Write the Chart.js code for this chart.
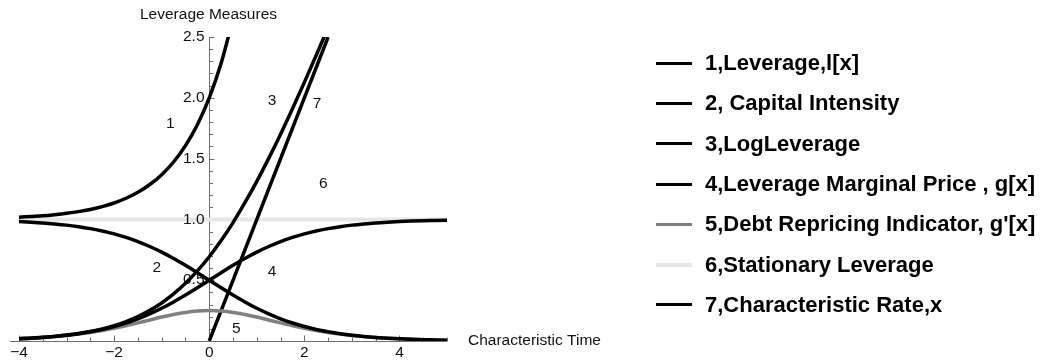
<!DOCTYPE html>
<html>
<head>
<meta charset="utf-8">
<title>Leverage Measures</title>
<script src="https://cdn.jsdelivr.net/npm/chart.js@4.4.1/dist/chart.umd.min.js"></script>
<style>
  body { margin: 0; background: #fff; }
  #wrap { position: relative; width: 1047px; height: 363px; }
  #legend { position: absolute; left: 656px; top: 43px; font: bold 22px "Liberation Sans", Arial, sans-serif; color: #000; }
  #legend .item { display: flex; align-items: center; height: 40.3px; white-space: nowrap; }
  #legend .swatch { width: 36px; margin-right: 13px; }
</style>
</head>
<body>
<div id="wrap">
  <canvas id="chart" width="1047" height="363"></canvas>
  <div id="legend"></div>
</div>
<script>
// --- data (x grid shared by all curves) ---
const xs = [-4, -3.75, -3.5, -3.25, -3, -2.75, -2.5, -2.25, -2, -1.75, -1.5, -1.25, -1, -0.75, -0.5, -0.25,
            0, 0.25, 0.5, 0.75, 1, 1.25, 1.5, 1.75, 2, 2.25, 2.5, 2.75, 3, 3.25, 3.5, 3.75, 4, 4.25, 4.5, 4.75, 5];

const leverage = [1.018, 1.024, 1.030, 1.039, 1.050, 1.064, 1.082, 1.105, 1.135, 1.174, 1.223, 1.287, 1.368,
                  1.472, 1.607, 1.779, 2.0, 2.284, 2.649];
const capitalIntensity = [0.982, 0.977, 0.971, 0.963, 0.953, 0.940, 0.924, 0.905, 0.881, 0.852, 0.818, 0.777, 0.731,
                          0.679, 0.622, 0.562, 0.5, 0.438, 0.378, 0.321, 0.269, 0.223, 0.182, 0.148, 0.119, 0.095,
                          0.076, 0.060, 0.047, 0.037, 0.029, 0.023, 0.018, 0.014, 0.011, 0.009, 0.007];
const logLeverage = [0.018, 0.023, 0.030, 0.038, 0.049, 0.062, 0.079, 0.100, 0.127, 0.160, 0.201, 0.252, 0.313,
                     0.387, 0.474, 0.576, 0.693, 0.826, 0.974, 1.137, 1.313, 1.502, 1.701, 1.910, 2.127, 2.350, 2.579];
const marginalPrice = [0.018, 0.023, 0.029, 0.037, 0.047, 0.060, 0.076, 0.095, 0.119, 0.148, 0.182, 0.223, 0.269,
                       0.321, 0.378, 0.438, 0.5, 0.562, 0.622, 0.679, 0.731, 0.777, 0.818, 0.852, 0.881, 0.905,
                       0.924, 0.940, 0.953, 0.963, 0.971, 0.977, 0.982, 0.986, 0.989, 0.991, 0.993];
const repricing = [0.018, 0.023, 0.029, 0.036, 0.045, 0.057, 0.070, 0.086, 0.105, 0.126, 0.149, 0.173, 0.197,
                   0.218, 0.235, 0.246, 0.25, 0.246, 0.235, 0.218, 0.197, 0.173, 0.149, 0.126, 0.105, 0.086,
                   0.070, 0.057, 0.045, 0.036, 0.029, 0.023, 0.018, 0.014, 0.011, 0.009, 0.007];
const stationaryX = [-4, 5];
const stationary = [1, 1];
const rateX = [0, 2.5];
const rate = [0, 2.5];

const seriesNames = ['1,Leverage,l[x]', '2, Capital Intensity', '3,LogLeverage', '4,Leverage Marginal Price , g[x]',
                     '5,Debt Repricing Indicator, g\'[x]', '6,Stationary Leverage', '7,Characteristic Rate,x'];

const xTickValues = [-4, -2, 0, 2, 4];
const xTickLabels = ['\u22124', '\u22122', '0', '2', '4'];
const yTickValues = [0.5, 1.0, 1.5, 2.0, 2.5];
const yTickLabels = ['0.5', '1.0', '1.5', '2.0', '2.5'];

// curve number annotations: text and where they sit (data units)
const curveTags = ['1', '2', '3', '4', '5', '6', '7'];
const curveTagX = [-0.82, -1.1, 1.32, 1.32, 0.57, 2.4, 2.27];
const curveTagY = [1.79, 0.6, 1.98, 0.57, 0.1, 1.29, 1.95];

const FONT = '"Liberation Sans", Arial, sans-serif';
const AXIS_COLOR = '#6e6e6e';
const STATIONARY_INDEX = 5;

function pts(xv, yv) {
    return yv.map((v, i) => ({ x: xv[i], y: v }));
}

function line(label, data, color, width, order) {
    return { label, data, borderColor: color, backgroundColor: color, borderWidth: width,
             pointRadius: 0, fill: false, cubicInterpolationMode: 'monotone', order: order || 0 };
}

// --- axes drawn like Mathematica: crossing at the origin, ticks inside ---
const originAxes = {
    id: 'originAxes',
    beforeDatasetsDraw(chart) {
        const { ctx } = chart;
        const x = chart.scales.x, y = chart.scales.y;
        const x0 = Math.round(x.getPixelForValue(0)) + 0.5;
        const y0 = Math.round(y.getPixelForValue(0)) + 0.5;
        ctx.save();
        ctx.strokeStyle = AXIS_COLOR;
        ctx.lineWidth = 1;
        ctx.beginPath();
        ctx.moveTo(x.left, y0); ctx.lineTo(x.right, y0);
        ctx.moveTo(x0, y0); ctx.lineTo(x0, y.top);
        // x ticks every 0.5, longer at labelled ones
        for (let v = -4; v <= 5.001; v += 0.5) {
            const px = Math.round(x.getPixelForValue(v)) + 0.5;
            const len = xTickValues.includes(v) ? 6 : 4;
            ctx.moveTo(px, y0); ctx.lineTo(px, y0 - len);
        }
        // y ticks every 0.1, longer at labelled ones
        for (let k = 1; k <= 25; k++) {
            const py = Math.round(y.getPixelForValue(k / 10)) + 0.5;
            const len = k % 5 === 0 ? 5 : 3.5;
            ctx.moveTo(x0, py); ctx.lineTo(x0 + len, py);
        }
        ctx.stroke();

        ctx.fillStyle = '#111';
        ctx.font = '15.5px ' + FONT;
        ctx.textAlign = 'center';
        ctx.textBaseline = 'middle';
        xTickValues.forEach((v, i) => ctx.fillText(xTickLabels[i], x.getPixelForValue(v), y0 + 11));

        ctx.fillText('Leverage Measures', x0 - 1, 15);
        ctx.textAlign = 'left';
        ctx.fillText('Characteristic Time', x.right + 21, y0 - 1);

        ctx.textAlign = 'center';
        curveTags.forEach((t, i) => ctx.fillText(t, x.getPixelForValue(curveTagX[i]), y.getPixelForValue(curveTagY[i])));
        ctx.restore();
    },
    // y labels sit above the pale stationary line but under the black curves
    afterDatasetDraw(chart, args) {
        if (args.index !== STATIONARY_INDEX) return;
        const { ctx } = chart;
        const x = chart.scales.x, y = chart.scales.y;
        const x0 = Math.round(x.getPixelForValue(0)) + 0.5;
        ctx.save();
        ctx.fillStyle = '#111';
        ctx.font = '15.5px ' + FONT;
        ctx.textAlign = 'right';
        ctx.textBaseline = 'middle';
        yTickValues.forEach((v, i) => ctx.fillText(yTickLabels[i], x0 - 5, y.getPixelForValue(v)));
        ctx.restore();
    }
};

// --- HTML legend built from the chart's own legend items ---
const htmlLegend = {
    id: 'htmlLegend',
    afterUpdate(chart) {
        const box = document.getElementById('legend');
        box.innerHTML = '';
        const items = Chart.defaults.plugins.legend.labels.generateLabels(chart)
            .sort((a, b) => a.datasetIndex - b.datasetIndex);
        items.forEach(item => {
            const row = document.createElement('div');
            row.className = 'item';
            const sw = document.createElement('span');
            sw.className = 'swatch';
            sw.style.height = (item.datasetIndex === STATIONARY_INDEX ? 4 : 3) + 'px';
            sw.style.background = item.strokeStyle;
            const txt = document.createElement('span');
            txt.textContent = item.text;
            row.appendChild(sw);
            row.appendChild(txt);
            box.appendChild(row);
        });
    }
};

new Chart(document.getElementById('chart'), {
    type: 'line',
    data: {
        datasets: [
            line(seriesNames[0], pts(xs, leverage), '#000', 3.5),
            line(seriesNames[1], pts(xs, capitalIntensity), '#000', 3.5),
            line(seriesNames[2], pts(xs, logLeverage), '#000', 3.5),
            line(seriesNames[3], pts(xs, marginalPrice), '#000', 3.5),
            line(seriesNames[4], pts(xs, repricing), '#808080', 3.5),
            line(seriesNames[5], pts(stationaryX, stationary), '#e6e6e6', 4, 1),
            line(seriesNames[6], pts(rateX, rate), '#000', 3.5)
        ]
    },
    options: {
        responsive: false,
        animation: false,
        devicePixelRatio: 1,
        events: [],
        layout: { padding: { left: 10, right: 600, top: 37, bottom: 22 } },
        scales: {
            x: { type: 'linear', min: -4.19, max: 5.0, display: false },
            y: { type: 'linear', min: 0, max: 2.5, display: false }
        },
        plugins: {
            legend: { display: false },
            tooltip: { enabled: false },
            title: { display: false }
        }
    },
    plugins: [originAxes, htmlLegend]
});
</script>
</body>
</html>
